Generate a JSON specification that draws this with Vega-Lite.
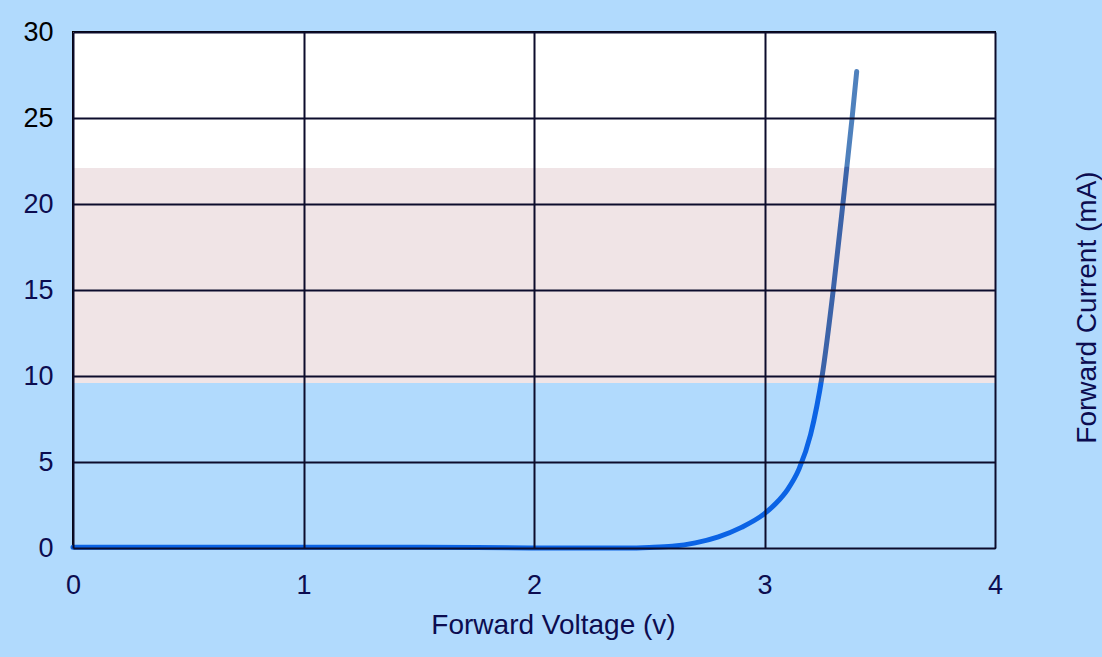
{
  "$schema": "https://vega.github.io/schema/vega-lite/v6.json",
  "width": 922,
  "height": 516,
  "autosize": {"type": "none"},
  "padding": {"left": 73, "top": 32, "right": 107, "bottom": 109},
  "background": "#b1dafd",
  "config": {
    "font": "Liberation Sans",
    "view": {"stroke": "#000000", "strokeWidth": 2}
  },
  "datasets": {
    "bands": [
      {"lo": 0, "hi": 9.6, "zone": "below"},
      {"lo": 9.6, "hi": 22.1, "zone": "middle"},
      {"lo": 22.1, "hi": 30, "zone": "top"}
    ],
    "curve": [
      {"v": 0, "i": 0.05},
      {"v": 0.5, "i": 0.05},
      {"v": 1, "i": 0.05},
      {"v": 1.5, "i": 0.05},
      {"v": 2, "i": 0},
      {"v": 2.4, "i": 0},
      {"v": 2.5, "i": 0.03},
      {"v": 2.6, "i": 0.1},
      {"v": 2.7, "i": 0.3},
      {"v": 2.8, "i": 0.65},
      {"v": 2.9, "i": 1.2},
      {"v": 3.0, "i": 2.0},
      {"v": 3.05, "i": 2.6},
      {"v": 3.1, "i": 3.4},
      {"v": 3.15, "i": 4.6},
      {"v": 3.2, "i": 6.6},
      {"v": 3.25, "i": 10},
      {"v": 3.3, "i": 15.2},
      {"v": 3.34, "i": 20},
      {"v": 3.38, "i": 25},
      {"v": 3.4, "i": 27.7}
    ]
  },
  "layer": [
    {
      "data": {"name": "bands"},
      "mark": {"type": "rect", "clip": true},
      "encoding": {
        "y": {
          "field": "lo", "type": "quantitative",
          "scale": {"domain": [0, 30], "nice": false},
          "title": "Forward Current (mA)",
          "axis": {
            "values": [0, 5, 10, 15, 20, 25, 30],
            "domain": false, "ticks": false, "tickSize": 0,
            "grid": true, "gridColor": "#0c0c2c", "gridWidth": 2, "gridOpacity": 1,
            "zindex": 1,
            "labelFont": "Liberation Sans", "labelFontSize": 27,
            "labelColor": {"condition": {"test": "datum.value >= 25", "value": "#000000"}, "value": "#0c0c50"},
            "labelPadding": 20, "labelBaseline": "middle",
            "titleFont": "Liberation Sans", "titleFontSize": 28, "titleFontWeight": "normal", "titleColor": "#0c0c50",
            "titleAngle": -90, "titleBaseline": "alphabetic", "titleAlign": "center",
            "titleX": 1022, "titleY": 275
          }
        },
        "y2": {"field": "hi"},
        "color": {
          "field": "zone",
          "type": "nominal",
          "scale": {"domain": ["below", "middle", "top"], "range": ["#b1dafd", "#f0e4e6", "#ffffff"]},
          "legend": null
        }
      }
    },
    {
      "data": {"name": "curve"},
      "mark": {
        "type": "line",
        "strokeWidth": 5,
        "interpolate": "monotone",
        "strokeCap": "round",
        "color": {
          "gradient": "linear",
          "x1": 0, "y1": 1, "x2": 0, "y2": 0,
          "stops": [
            {"offset": 0, "color": "#0b63e5"},
            {"offset": 0.347, "color": "#0b63e5"},
            {"offset": 0.348, "color": "#3c63a8"},
            {"offset": 0.8, "color": "#3c63a8"},
            {"offset": 0.801, "color": "#4f81bd"},
            {"offset": 1, "color": "#4f81bd"}
          ]
        }
      },
      "encoding": {
        "x": {
          "field": "v", "type": "quantitative",
          "scale": {"domain": [0, 4], "nice": false},
          "title": "Forward Voltage (v)",
          "axis": {
            "values": [0, 1, 2, 3, 4],
            "format": "d",
            "domain": false, "ticks": false, "tickSize": 0,
            "grid": true, "gridColor": "#0c0c2c", "gridWidth": 2, "gridOpacity": 1,
            "zindex": 1,
            "labelFont": "Liberation Sans", "labelFontSize": 27, "labelColor": "#0c0c50",
            "labelAlign": "center", "labelBaseline": "alphabetic", "labelPadding": 45,
            "labelFlush": false, "labelOverlap": false,
            "titleFont": "Liberation Sans", "titleFontSize": 28, "titleFontWeight": "normal", "titleColor": "#0c0c50",
            "titleBaseline": "alphabetic", "titleAlign": "center",
            "titleX": 480, "titleY": 85
          }
        },
        "y": {
          "field": "i", "type": "quantitative",
          "scale": {"domain": [0, 30], "nice": false},
          "title": "Forward Current (mA)"
        }
      }
    }
  ]
}
